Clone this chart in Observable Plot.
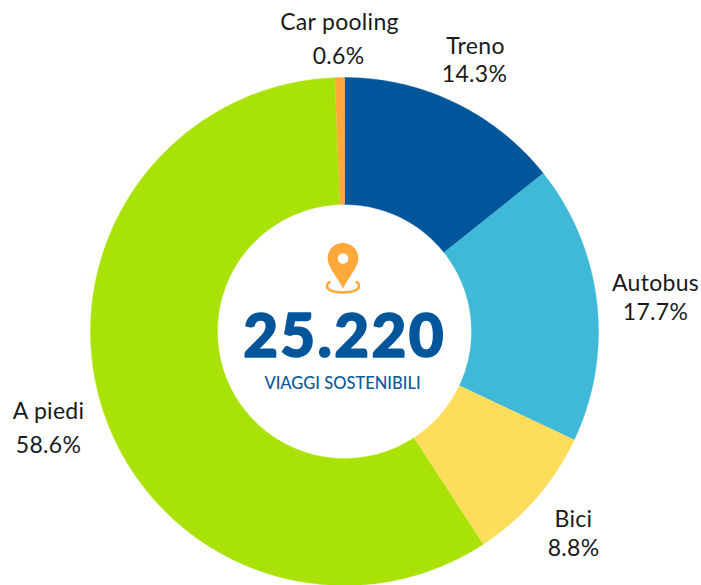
<!DOCTYPE html>
<html><head><meta charset="utf-8">
<script src="https://cdn.jsdelivr.net/npm/d3@7"></script>
<script src="https://cdn.jsdelivr.net/npm/@observablehq/plot@0.6"></script>
<style>html,body{margin:0;padding:0;background:#fff}svg{display:block}
.num-label text{letter-spacing:2.4px}
.cat-label text{letter-spacing:0.3px}</style>
</head><body><div id="chart"></div>
<script>
const categories = ["Treno","Autobus","Bici","A piedi","Car pooling"];
const shares = [14.3,17.7,8.8,58.6,0.6];
const percentLabels = ["14.3%","17.7%","8.8%","58.6%","0.6%"];
const colors = ["#00569a","#40b8d8","#ffdd5c","#a9e206","#ffa93d"];
const nameX = [475,655,573,48,339];
const nameY = [53,290,526,418,29];
const valueX = [474,655,573,48,338];
const valueY = [81,319,555,452,63];
const total = "25.220";
const subtitle = "VIAGGI SOSTENIBILI";
const cx = 344, cy = 331, rOuter = 254, rInner = 127;

const sum = d3.sum(shares);
const wedges = [];
let acc = 0;
categories.forEach((c,i)=>{
  const a0 = acc/sum*2*Math.PI, a1 = (acc+shares[i])/sum*2*Math.PI;
  acc += shares[i];
  const n = Math.max(2, Math.ceil((a1-a0)*60));
  for (let k=0;k<=n;k++){const a=a0+(a1-a0)*k/n; wedges.push({c,x:cx+rOuter*Math.sin(a),y:cy-rOuter*Math.cos(a)});}
  for (let k=n;k>=0;k--){const a=a0+(a1-a0)*k/n; wedges.push({c,x:cx+rInner*Math.sin(a),y:cy-rInner*Math.cos(a)});}
});
const pin = `<svg xmlns="http://www.w3.org/2000/svg" viewBox="0 0 34 50"><path d="M5 37.5C1 39 1 43 4 45c6 3.500 20 3.500 26 0 3-2 3-6-1-7.500" fill="none" stroke="#ffa93d" stroke-width="2.400"/><path fill="#ffa93d" fill-rule="evenodd" d="M17 1C8.500 1 2.500 7.500 2.500 15.500 2.500 24 12 33 17 44 22 33 31.500 24 31.500 15.500 31.500 7.500 25.500 1 17 1Zm0 9.500a5 5 0 1 1 0 10 5 5 0 0 1 0-10Z"/></svg>`;
const pinSrc = "data:image/svg+xml;utf8,"+encodeURIComponent(pin);
const font = "Lato, 'Noto Sans', sans-serif";
const idx = d3.range(categories.length);
const plot = Plot.plot({
  width:701,height:585,margin:0,
  style:{background:"#fff",fontFamily:font},
  x:{domain:[0,701],range:[0,701],axis:null},
  y:{domain:[0,585],range:[0,585],axis:null},
  color:{domain:categories,range:colors},
  marks:[
    Plot.line(wedges,{x:"x",y:"y",z:"c",fill:"c",stroke:"c",strokeWidth:0.4,curve:"linear"}),
    Plot.image([0],{x:()=>342.5,y:()=>268,width:36,height:53,src:()=>pinSrc}),
    Plot.text([total],{x:()=>cx,y:()=>356,text:d=>d,fontSize:60,fontWeight:900,fill:"#00569a",stroke:"#00569a",strokeWidth:1.6,lineAnchor:"bottom",className:"num-label"}),
    Plot.text([subtitle],{x:()=>342,y:()=>388,text:d=>d,fontSize:16.500,fontWeight:500,fill:"#0b5a9b",lineAnchor:"bottom"}),
    Plot.text(idx,{x:i=>nameX[i],y:i=>nameY[i],text:i=>categories[i],fontSize:23,fill:"#1a1a1a",lineAnchor:"bottom",className:"cat-label"}),
    Plot.text(idx,{x:i=>valueX[i],y:i=>valueY[i],text:i=>percentLabels[i],fontSize:23,fill:"#1a1a1a",lineAnchor:"bottom",className:"cat-label"})
  ]
});
document.getElementById("chart").append(plot);
</script></body></html>
